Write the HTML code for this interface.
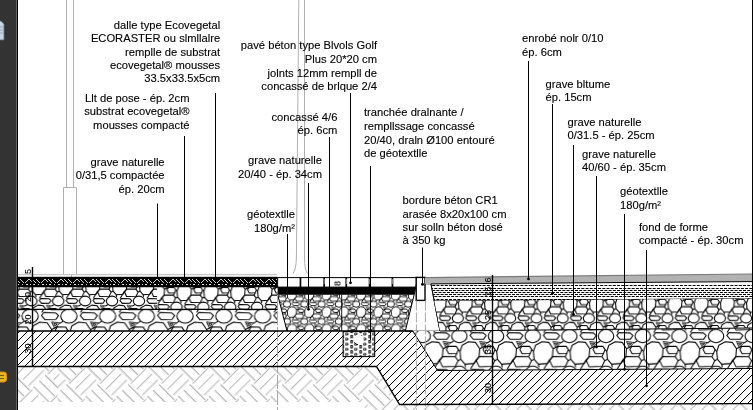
<!DOCTYPE html>
<html><head><meta charset="utf-8">
<style>
html,body{margin:0;padding:0;background:#fff;}
body{width:754px;height:410px;overflow:hidden;position:relative;}
svg{position:absolute;left:0;top:0;}
text{font-family:"Liberation Sans",sans-serif;font-size:11.2px;fill:#000;stroke:#000;stroke-width:0.12px;}
text.d{font-size:9px;}
</style></head><body>
<svg width="754" height="410" viewBox="0 0 754 410">
<defs>
<g id="gv"><ellipse cx="0" cy="0" rx="5.5" ry="4.7"/>
<path d="M-18.5,-0.5 L-16.8,-2.5 L-9,-2.2 L-7,-0.4 L-8.8,2.2 L-16.2,2.3 Z"/>
<path d="M-11.6,3.9 L-6.1,4.6 L-9.7,8.1 Z M-10.2,5 L-7.9,5.3 L-9.4,6.6 Z" stroke-width="0.6"/>
<path d="M-9.2,9.5 L-7.8,7.2 L-2.2,7.3 L-0.7,9.6 L-1.8,12.3 L-7.6,12.5 Z"/>
<path d="M0.5,11 L2,6.5 L6.5,4 L11.5,4.5 L14.5,9 L14,15 L10.5,19.5 L4,20 L1,16.5 Z"/>
<path d="M-14.2,17 L-12,14.5 L-3,14.6 L-0.9,17.5 L-2.8,21.5 L-12,21.8 Z"/>
<path d="M-14.2,17 L-18.3,23.6 M-6.2,4.9 L-4,3.4 M-0.7,9.6 L0.5,11 M-1.8,12.3 L-3,14.6 M-0.9,17.5 L1,16.5 M4,20 L4.5,22.2 M14.5,9 L18.5,7"/></g>
<pattern id="gvLA" patternUnits="userSpaceOnUse" x="0" y="0" width="26.1" height="26.1" patternTransform="translate(58.3,301.0) scale(1.03)"><rect x="0" y="0" width="26.1" height="26.1" fill="#fff"/><g stroke="#000" stroke-width="1.019" fill="none" stroke-linejoin="round"><use href="#gv" x="-26.1" y="-26.1"/><use href="#gv" x="-26.1" y="0.0"/><use href="#gv" x="-26.1" y="26.1"/><use href="#gv" x="0.0" y="-26.1"/><use href="#gv" x="0.0" y="0.0"/><use href="#gv" x="0.0" y="26.1"/><use href="#gv" x="26.1" y="-26.1"/><use href="#gv" x="26.1" y="0.0"/><use href="#gv" x="26.1" y="26.1"/></g></pattern>
<pattern id="gvLA2" patternUnits="userSpaceOnUse" x="0" y="0" width="26.1" height="26.1" patternTransform="translate(176.5,280.1) scale(1.03)"><rect x="0" y="0" width="26.1" height="26.1" fill="#fff"/><g stroke="#000" stroke-width="1.019" fill="none" stroke-linejoin="round"><use href="#gv" x="-26.1" y="-26.1"/><use href="#gv" x="-26.1" y="0.0"/><use href="#gv" x="-26.1" y="26.1"/><use href="#gv" x="0.0" y="-26.1"/><use href="#gv" x="0.0" y="0.0"/><use href="#gv" x="0.0" y="26.1"/><use href="#gv" x="26.1" y="-26.1"/><use href="#gv" x="26.1" y="0.0"/><use href="#gv" x="26.1" y="26.1"/></g></pattern>
<pattern id="gvLB" patternUnits="userSpaceOnUse" x="0" y="0" width="26.1" height="26.1" patternTransform="translate(68.9,316.2) scale(1.484)"><rect x="0" y="0" width="26.1" height="26.1" fill="#fff"/><g stroke="#000" stroke-width="0.708" fill="none" stroke-linejoin="round"><use href="#gv" x="-26.1" y="-26.1"/><use href="#gv" x="-26.1" y="0.0"/><use href="#gv" x="-26.1" y="26.1"/><use href="#gv" x="0.0" y="-26.1"/><use href="#gv" x="0.0" y="0.0"/><use href="#gv" x="0.0" y="26.1"/><use href="#gv" x="26.1" y="-26.1"/><use href="#gv" x="26.1" y="0.0"/><use href="#gv" x="26.1" y="26.1"/></g></pattern>
<pattern id="gvP" patternUnits="userSpaceOnUse" x="0" y="0" width="26.1" height="26.1" patternTransform="translate(287.0,304.2) scale(0.663)"><rect x="0" y="0" width="26.1" height="26.1" fill="#fff"/><g stroke="#000" stroke-width="1.357" fill="none" stroke-linejoin="round"><use href="#gv" x="-26.1" y="-26.1"/><use href="#gv" x="-26.1" y="0.0"/><use href="#gv" x="-26.1" y="26.1"/><use href="#gv" x="0.0" y="-26.1"/><use href="#gv" x="0.0" y="0.0"/><use href="#gv" x="0.0" y="26.1"/><use href="#gv" x="26.1" y="-26.1"/><use href="#gv" x="26.1" y="0.0"/><use href="#gv" x="26.1" y="26.1"/></g></pattern>
<pattern id="gvR1" patternUnits="userSpaceOnUse" x="0" y="0" width="26.1" height="26.1" patternTransform="translate(719.9,318.3) scale(1.004)"><rect x="0" y="0" width="26.1" height="26.1" fill="#fff"/><g stroke="#000" stroke-width="1.046" fill="none" stroke-linejoin="round"><use href="#gv" x="-26.1" y="-26.1"/><use href="#gv" x="-26.1" y="0.0"/><use href="#gv" x="-26.1" y="26.1"/><use href="#gv" x="0.0" y="-26.1"/><use href="#gv" x="0.0" y="0.0"/><use href="#gv" x="0.0" y="26.1"/><use href="#gv" x="26.1" y="-26.1"/><use href="#gv" x="26.1" y="0.0"/><use href="#gv" x="26.1" y="26.1"/></g></pattern>
<pattern id="gvR2" patternUnits="userSpaceOnUse" x="0" y="0" width="26.1" height="26.1" patternTransform="translate(679.4,336.1) scale(1.405)"><rect x="0" y="0" width="26.1" height="26.1" fill="#fff"/><g stroke="#000" stroke-width="0.747" fill="none" stroke-linejoin="round"><use href="#gv" x="-26.1" y="-26.1"/><use href="#gv" x="-26.1" y="0.0"/><use href="#gv" x="-26.1" y="26.1"/><use href="#gv" x="0.0" y="-26.1"/><use href="#gv" x="0.0" y="0.0"/><use href="#gv" x="0.0" y="26.1"/><use href="#gv" x="26.1" y="-26.1"/><use href="#gv" x="26.1" y="0.0"/><use href="#gv" x="26.1" y="26.1"/></g></pattern>
<pattern id="earth" patternUnits="userSpaceOnUse" width="43.6" height="43.6" patternTransform="translate(-25.1,383.5) rotate(45)"><rect width="43.6" height="43.6" fill="#fff"/><g stroke="#b4b4b4" stroke-width="1.0" fill="none"><path d="M0.00,1.36 H21.80 M0.00,9.54 H21.80 M0.00,17.71 H21.80 M21.80,23.16 H43.60 M21.80,31.34 H43.60 M21.80,39.51 H43.60 M23.16,-1.36 V20.44 M31.34,-1.36 V20.44 M39.51,-1.36 V20.44 M1.36,20.44 V42.24 M9.54,20.44 V42.24 M17.71,20.44 V42.24"/><path d="M0.00,1.36 H21.80 M0.00,9.54 H21.80 M0.00,17.71 H21.80 M21.80,23.16 H43.60 M21.80,31.34 H43.60 M21.80,39.51 H43.60 M23.16,-1.36 V20.44 M31.34,-1.36 V20.44 M39.51,-1.36 V20.44 M1.36,20.44 V42.24 M9.54,20.44 V42.24 M17.71,20.44 V42.24" transform="translate(43.6,0)"/><path d="M0.00,1.36 H21.80 M0.00,9.54 H21.80 M0.00,17.71 H21.80 M21.80,23.16 H43.60 M21.80,31.34 H43.60 M21.80,39.51 H43.60 M23.16,-1.36 V20.44 M31.34,-1.36 V20.44 M39.51,-1.36 V20.44 M1.36,20.44 V42.24 M9.54,20.44 V42.24 M17.71,20.44 V42.24" transform="translate(-43.6,0)"/><path d="M0.00,1.36 H21.80 M0.00,9.54 H21.80 M0.00,17.71 H21.80 M21.80,23.16 H43.60 M21.80,31.34 H43.60 M21.80,39.51 H43.60 M23.16,-1.36 V20.44 M31.34,-1.36 V20.44 M39.51,-1.36 V20.44 M1.36,20.44 V42.24 M9.54,20.44 V42.24 M17.71,20.44 V42.24" transform="translate(0,43.6)"/><path d="M0.00,1.36 H21.80 M0.00,9.54 H21.80 M0.00,17.71 H21.80 M21.80,23.16 H43.60 M21.80,31.34 H43.60 M21.80,39.51 H43.60 M23.16,-1.36 V20.44 M31.34,-1.36 V20.44 M39.51,-1.36 V20.44 M1.36,20.44 V42.24 M9.54,20.44 V42.24 M17.71,20.44 V42.24" transform="translate(0,-43.6)"/></g></pattern>
<pattern id="earth2" patternUnits="userSpaceOnUse" width="43.6" height="43.6" patternTransform="translate(-15.600000000000001,374.0) rotate(45)"><rect width="43.6" height="43.6" fill="#fff"/><g stroke="#b4b4b4" stroke-width="1.0" fill="none"><path d="M0.00,1.36 H21.80 M0.00,9.54 H21.80 M0.00,17.71 H21.80 M21.80,23.16 H43.60 M21.80,31.34 H43.60 M21.80,39.51 H43.60 M23.16,-1.36 V20.44 M31.34,-1.36 V20.44 M39.51,-1.36 V20.44 M1.36,20.44 V42.24 M9.54,20.44 V42.24 M17.71,20.44 V42.24"/><path d="M0.00,1.36 H21.80 M0.00,9.54 H21.80 M0.00,17.71 H21.80 M21.80,23.16 H43.60 M21.80,31.34 H43.60 M21.80,39.51 H43.60 M23.16,-1.36 V20.44 M31.34,-1.36 V20.44 M39.51,-1.36 V20.44 M1.36,20.44 V42.24 M9.54,20.44 V42.24 M17.71,20.44 V42.24" transform="translate(43.6,0)"/><path d="M0.00,1.36 H21.80 M0.00,9.54 H21.80 M0.00,17.71 H21.80 M21.80,23.16 H43.60 M21.80,31.34 H43.60 M21.80,39.51 H43.60 M23.16,-1.36 V20.44 M31.34,-1.36 V20.44 M39.51,-1.36 V20.44 M1.36,20.44 V42.24 M9.54,20.44 V42.24 M17.71,20.44 V42.24" transform="translate(-43.6,0)"/><path d="M0.00,1.36 H21.80 M0.00,9.54 H21.80 M0.00,17.71 H21.80 M21.80,23.16 H43.60 M21.80,31.34 H43.60 M21.80,39.51 H43.60 M23.16,-1.36 V20.44 M31.34,-1.36 V20.44 M39.51,-1.36 V20.44 M1.36,20.44 V42.24 M9.54,20.44 V42.24 M17.71,20.44 V42.24" transform="translate(0,43.6)"/><path d="M0.00,1.36 H21.80 M0.00,9.54 H21.80 M0.00,17.71 H21.80 M21.80,23.16 H43.60 M21.80,31.34 H43.60 M21.80,39.51 H43.60 M23.16,-1.36 V20.44 M31.34,-1.36 V20.44 M39.51,-1.36 V20.44 M1.36,20.44 V42.24 M9.54,20.44 V42.24 M17.71,20.44 V42.24" transform="translate(0,-43.6)"/></g></pattern>
<pattern id="hatch" patternUnits="userSpaceOnUse" x="7" y="0" width="8" height="8"><rect width="8" height="8" fill="#fff"/><path d="M-1,1 L1,-1 M0,8 L8,0 M7,9 L9,7" stroke="#000" stroke-width="1.0"/></pattern>
<pattern id="dash" patternUnits="userSpaceOnUse" x="0" y="284" width="4" height="4">
    <rect width="4" height="4" fill="#fff"/>
    <g fill="#000" shape-rendering="crispEdges"><rect x="0" y="0" width="3" height="1"/><rect x="2" y="2" width="2" height="1"/><rect x="0" y="2" width="1" height="1"/></g>
  </pattern>
<pattern id="eco" patternUnits="userSpaceOnUse" x="0" y="277" width="16" height="10">
    <rect width="16" height="10" fill="#000"/>
    <g fill="#fff"><rect x="0" y="2" width="0.9" height="0.9"/><rect x="1" y="3" width="0.9" height="0.9"/><rect x="2" y="4" width="0.9" height="0.9"/><rect x="3" y="5" width="0.9" height="0.9"/><rect x="4" y="2" width="0.9" height="0.9"/><rect x="5" y="3" width="0.9" height="0.9"/><rect x="6" y="4" width="0.9" height="0.9"/><rect x="7" y="5" width="0.9" height="0.9"/><rect x="12" y="2" width="0.9" height="0.9"/><rect x="11" y="3" width="0.9" height="0.9"/><rect x="10" y="4" width="0.9" height="0.9"/><rect x="9" y="5" width="0.9" height="0.9"/><rect x="13" y="2" width="0.9" height="0.9"/><rect x="14" y="3" width="0.9" height="0.9"/><rect x="15" y="4" width="0.9" height="0.9"/><rect x="1" y="7" width="2" height="0.9"/><rect x="6" y="7" width="0.9" height="0.9"/><rect x="10" y="7" width="2" height="0.9"/><rect x="14" y="7" width="0.9" height="0.9"/></g>
  </pattern>
<pattern id="drain" patternUnits="userSpaceOnUse" x="345.2" y="331.5" width="9" height="5.1">
    <rect width="9" height="5.1" fill="#fff"/>
    <g fill="none" stroke="#000" stroke-width="0.9">
    <ellipse cx="1.5" cy="2.5" rx="1.5" ry="0.95"/>
    <rect x="5.8" y="3.9" width="1.4" height="2.4"/>
    <rect x="5.8" y="-1.2" width="1.4" height="2.4"/>
    </g>
  </pattern>
</defs>
<!-- left dark panel -->
<rect x="0" y="0" width="16" height="410" fill="#333"/>
<rect x="16" y="0" width="1" height="410" fill="#636363"/>
<rect x="17" y="0" width="1" height="410" fill="#000"/>
<!-- doc icon -->
<path d="M-3 21 H1 L4 24 V40 H-3 Z" fill="#c9d3de" stroke="#56697e" stroke-width="0.8"/>
<path d="M0 27 H3 M0 30 H3 M0 33 H3" stroke="#7d8fa3" stroke-width="0.6"/>
<!-- yellow icon -->
<rect x="-4" y="372" width="10.5" height="10" rx="2.5" fill="#e3b825" stroke="#d9891a" stroke-width="1"/>
<path d="M-2 375.5 H4 M-2 378.5 H4" stroke="#7a5a10" stroke-width="1"/>
<!-- right border -->
<rect x="752" y="0" width="1" height="410" fill="#000"/>

<!-- gray pole lines -->
<g stroke="#b0b0b0" stroke-width="1" fill="none">
  <path d="M66.5 0 V187.5 M73.5 0 V187.5"/>
  <path d="M63.5 274.5 V187.5 H76.5 V274.5 M71.5 274.5 V277"/>
  <path d="M298.8 0 L296.4 258 Q296 270 293 273.5 M304.5 0 V258 Q304.5 270 307.5 273.5"/>
  <path d="M18 274.6 H277" stroke="#c8c8c8" stroke-width="1.2"/>
</g>

<!-- ============ LAYERS ============ -->
<polygon points="18,366.5 376.5,366.5 399.6,404.5 752,403.6 752,410 366,410 361,402 18,402" fill="url(#earth)"/>
<rect x="18" y="366.5" width="39.5" height="35.5" fill="url(#earth2)"/>
<polygon points="18,331 412.8,331 437.5,370.5 752,368.5 752,403.6 399.6,404.5 376.5,366.5 18,366.5" fill="url(#hatch)"/>
<rect x="18" y="309.4" width="259.5" height="21.6" fill="url(#gvLB)"/>
<rect x="18" y="286.5" width="139.3" height="22.9" fill="url(#gvLA)"/>
<rect x="157.3" y="286.5" width="120.2" height="22.9" fill="url(#gvLA2)"/>
<rect x="18" y="276.8" width="259.5" height="9.7" fill="url(#eco)"/>

<!-- paver section -->
<polygon points="277.6,294.5 414.2,294.5 405.3,331 287,331" fill="url(#gvP)"/>
<path d="M277.6,294.5 L287,331" stroke="#000" stroke-width="1" fill="none"/>
<path d="M341.7,294.5 V331" stroke="#000" stroke-width="0.9"/>
<polygon points="277.6,287.1 415.6,287.1 414.2,294.8 277.6,294.8" fill="#000"/>
<rect x="277.6" y="277.6" width="138.8" height="9.5" fill="#fff" stroke="#000" stroke-width="1"/>
<g fill="#000">
  <rect x="299.6" y="277.6" width="1.7" height="9.5"/>
  <rect x="323.3" y="277.6" width="1.7" height="9.5"/>
  <rect x="345.4" y="277.6" width="1.7" height="9.5"/>
  <rect x="368.7" y="277.6" width="1.7" height="9.5"/>
  <rect x="391.6" y="277.6" width="1.7" height="9.5"/>
</g>
<g fill="#fff">
  <rect x="323.90000000000003" y="279" width="0.5" height="5"/>
  <rect x="346.0" y="279" width="0.5" height="5"/>
  <rect x="369.3" y="279" width="0.5" height="5"/>
  <rect x="392.20000000000005" y="279" width="0.5" height="5"/>
</g>
<!-- drain -->
<rect x="343.1" y="331.6" width="31.6" height="25" fill="url(#drain)" stroke="#000" stroke-width="1"/>
<circle cx="358.7" cy="339.7" r="5" fill="#fff"/>
<path d="M354.5,342.5 A5,5 0 0 0 358,344.7" stroke="#000" stroke-width="0.9" fill="none"/>

<!-- curb footing trapezoid -->
<polygon points="415.3,289.9 416.4,283.8 431,283.8 440,331.2 405.3,331.2" fill="#fff" stroke="#000" stroke-width="1"/>
<!-- curb -->
<rect x="416.2" y="277.4" width="8.8" height="23" fill="#fff" stroke="#000" stroke-width="1.4"/>

<!-- road layers -->
<polygon points="425,277.6 752,274 752,281.6 431,283.9 425,283.9" fill="#b2b2b2"/>
<path d="M425,277.6 L752,274" stroke="#7a7a7a" stroke-width="1.2" fill="none"/>
<clipPath id="dashclip"><polygon points="431,283.9 752,281.6 752,298.6 434.3,301"/></clipPath>
<polygon points="431,283.9 752,281.6 752,298.6 434.3,301" fill="#fff"/>
<g clip-path="url(#dashclip)" stroke="#000" stroke-width="1" stroke-dasharray="3 1.2"><path d="M428 285.5 H752" stroke-dashoffset="0"/><path d="M428 288.5 H752" stroke-dashoffset="2.1"/><path d="M428 290.5 H752" stroke-dashoffset="0"/><path d="M428 292.5 H752" stroke-dashoffset="2.1"/><path d="M428 294.5 H752" stroke-dashoffset="0"/><path d="M428 296.5 H752" stroke-dashoffset="2.1"/><path d="M428 299.5 H752" stroke-dashoffset="0"/></g>
<path d="M431,283.9 L752,281.6 M434.3,301 L752,298.6 M431,283.9 L440,331.2" stroke="#000" stroke-width="1" fill="none"/>
<polygon points="434.3,301 752,298.6 752,328 440,331" fill="url(#gvR1)"/>
<polygon points="412.8,331 440,331 752,328 752,368.5 437.5,370.5" fill="url(#gvR2)"/>
<path d="M440,331 L752,328 M437.5,370.5 L752,368.5 M412.8,331 L437.5,370.5" stroke="#000" stroke-width="1" fill="none"/>

<!-- gray hidden lines -->
<g stroke="#a8a8a8" stroke-width="1" fill="none">
  <path d="M277.5,295 V410" stroke-dasharray="14,2"/>
  <path d="M416.4,300.5 V410 M425.4,300.5 V410" stroke-dasharray="10,2"/>
</g>

<!-- layer boundary lines -->
<g stroke="#000" stroke-width="1.4" fill="none">
  <path d="M18 286.5 H277.6 M18 309.4 H277.6 M18 331 H412.8 M18 366.5 H376.5 L399.6 404.5 L752 403.6"/>
  <path d="M32.5 267 V366.5"/>
  <path d="M492.5 275 V404.5"/>
</g>
<!-- dimension labels -->
<g font-size="9" style="filter:grayscale(1)">
  <text class="d" transform="translate(31.3,274) rotate(-90)">5</text>
  <text class="d" transform="translate(31.3,302) rotate(-90)">20</text>
  <text class="d" transform="translate(31.3,324.5) rotate(-90)">20</text>
  <text class="d" transform="translate(31.3,353.5) rotate(-90)">30</text>
  <text class="d" transform="translate(490.8,282.5) rotate(-90)">6</text>
  <text class="d" transform="translate(490.8,296.5) rotate(-90)">15</text>
  <text class="d" transform="translate(490.8,320) rotate(-90)">25</text>
  <text class="d" transform="translate(490.8,354) rotate(-90)">35</text>
  <text class="d" transform="translate(490.8,393) rotate(-90)">30</text>
  <text class="d" transform="translate(340.5,286) rotate(-90)">8</text>
</g>

<!-- ============ LEADERS ============ -->
<g stroke="#000" stroke-width="1" fill="none">
  <path d="M215.5 93 V277"/>
  <path d="M184.5 136 V277"/>
  <path d="M157.5 203.6 V277"/>
  <path d="M350.5 93 V283"/>
  <path d="M329.5 137 V288"/>
  <path d="M370.5 166 V340"/>
  <path d="M308.5 183 V309"/>
  <path d="M287.5 234 V288"/>
  <path d="M422.5 247.5 V284"/>
  <path d="M528.5 61 V279"/>
  <path d="M552.5 104 V293"/>
  <path d="M573.5 145 V314.4"/>
  <path d="M596.5 176 V347"/>
  <path d="M624.5 214 V369.3"/>
  <path d="M646.5 250 V385.8"/>
</g>
<g fill="#000">
  <circle cx="350.5" cy="282.8" r="1.4"/>
  <circle cx="422.5" cy="284.3" r="1.5"/>
  <circle cx="308.5" cy="309.3" r="1.4"/>
  <circle cx="528.5" cy="278.9" r="1.4"/>
  <circle cx="552.5" cy="293.2" r="1.4"/>
  <circle cx="573.5" cy="314.4" r="1.4"/>
  <circle cx="596.5" cy="347.1" r="1.4"/>
  <circle cx="624.5" cy="369.3" r="1.4"/>
  <circle cx="646.5" cy="385.8" r="1.4"/>
</g>

<!-- ============ TEXT ============ -->
<g style="filter:grayscale(1)">
<g text-anchor="end">
  <text x="220.2" y="28.7">dalle type Ecovegetal</text>
  <text x="220.2" y="42.1">ECORASTER ou slmllalre</text>
  <text x="220.2" y="55.5">remplle de substrat</text>
  <text x="220.2" y="68.9">ecovegetal® mousses</text>
  <text x="220.2" y="82.3">33.5x33.5x5cm</text>

  <text x="189.5" y="101.6">Llt de pose - ép. 2cm</text>
  <text x="189.5" y="115.1">substrat ecovegetal®</text>
  <text x="189.5" y="128.6">mousses compacté</text>

  <text x="164.6" y="165.6">grave naturelle</text>
  <text x="164.6" y="179.1">0/31,5 compactée</text>
  <text x="164.6" y="192.6">ép. 20cm</text>

  <text x="377" y="49.2">pavé béton type Blvols Golf</text>
  <text x="377" y="62.9">Plus 20*20 cm</text>
  <text x="377" y="76.6">jolnts 12mm rempll de</text>
  <text x="377" y="90.3">concassé de brlque 2/4</text>

  <text x="337.4" y="120.7">concassé 4/6</text>
  <text x="337.4" y="134">ép. 6cm</text>

  <text x="322" y="164.3">grave naturelle</text>
  <text x="322" y="177.6">20/40 - ép. 34cm</text>

  <text x="295" y="218.3">géotextlle</text>
  <text x="295" y="231.5">180g/m²</text>
</g>
<g>
  <text x="364" y="116.4">tranchée dralnante /</text>
  <text x="364" y="130">rempllssage concassé</text>
  <text x="364" y="143.6">20/40, draln Ø100 entouré</text>
  <text x="364" y="157.3">de géotextlle</text>

  <text x="402.6" y="204.2">bordure béton CR1</text>
  <text x="402.6" y="217.8">arasée 8x20x100 cm</text>
  <text x="402.6" y="231.2">sur solln béton dosé</text>
  <text x="402.6" y="244.4">à 350 kg</text>

  <text x="522" y="42.3">enrobé nolr 0/10</text>
  <text x="522" y="55.8">ép. 6cm</text>

  <text x="545.5" y="87.9">grave bltume</text>
  <text x="545.5" y="101.3">ép. 15cm</text>

  <text x="567.5" y="125.7">grave naturelle</text>
  <text x="567.5" y="139.2">0/31.5 - ép. 25cm</text>

  <text x="582" y="157.8">grave naturelle</text>
  <text x="582" y="171.2">40/60 - ép. 35cm</text>

  <text x="620" y="195.3">géotextlle</text>
  <text x="620" y="208.9">180g/m²</text>

  <text x="639" y="230.9">fond de forme</text>
  <text x="639" y="244.3">compacté - ép. 30cm</text>
</g>
</g>

</svg>
</body></html>
